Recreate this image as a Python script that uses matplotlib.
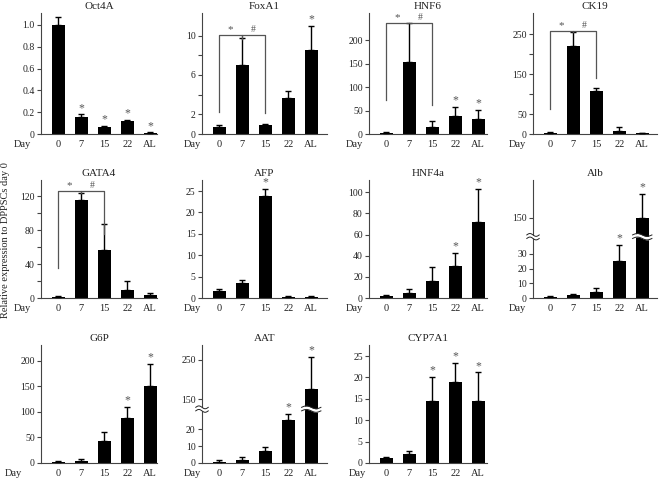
import numpy as np
import matplotlib
matplotlib.use("Agg")
import matplotlib.pyplot as plt

plt.rcParams["font.family"] = ["Liberation Serif", "DejaVu Serif"]

days = ["0", "7", "15", "22", "AL"]
genes = ["Oct4A", "FoxA1", "HNF6", "CK19", "GATA4", "AFP", "HNF4a", "Alb",
         "G6P", "AAT", "CYP7A1"]

# mean values and upper error (sd)
oct4a = [1.0, 0.156, 0.067, 0.12, 0.008]
oct4a_err = [0.077, 0.024, 0.008, 0.01, 0.007]
foxa1 = [0.67, 7.05, 0.87, 3.65, 8.5]
foxa1_err = [0.23, 2.68, 0.13, 0.72, 2.5]
hnf6 = [2, 153, 15.5, 38, 31]
hnf6_err = [2, 84, 11.5, 20.5, 20.5]
ck19 = [3, 220, 108, 7.5, 2]
ck19_err = [3, 36, 8, 10.5, 1.5]
gata4 = [1.5, 116, 57, 9.3, 3.9]
gata4_err = [1, 8, 30, 11.3, 2.3]
afp = [1.7, 3.5, 23.75, 0.3, 0.3]
afp_err = [0.4, 0.6, 1.75, 0.2, 0.2]
hnf4a = [1.5, 5, 16, 30.7, 72]
hnf4a_err = [1, 3.8, 13, 12, 31]
alb = [0.7, 1.8, 4.25, 24.8, 150]
alb_err = [0.6, 1.1, 2.25, 11, 65]
g6p = [1.5, 4.5, 43.5, 87.7, 150]
g6p_err = [1.5, 2.5, 16.5, 22.3, 44]
aat = [0.6, 1.9, 7.1, 25.4, 177]
aat_err = [0.9, 1.4, 2.3, 3.8, 80]
cyp7a1 = [1.17, 2.2, 14.4, 18.9, 14.4]
cyp7a1_err = [0.3, 0.6, 5.7, 4.6, 6.8]

values = [oct4a, foxa1, hnf6, ck19, gata4, afp, hnf4a, alb, g6p, aat, cyp7a1]
errors = [oct4a_err, foxa1_err, hnf6_err, ck19_err, gata4_err, afp_err,
          hnf4a_err, alb_err, g6p_err, aat_err, cyp7a1_err]

# bars marked with * (significant vs day 0)
stars = [[1, 2, 3, 4], [4], [3, 4], [], [], [2], [3, 4], [3, 4], [3, 4],
         [3, 4], [2, 3, 4]]

# brackets: (bar i, bar j, left leg end, top, right leg end, symbol)
brackets = {
    "FoxA1": [(0, 1, 2.27, 10.1, 9.7, "*"), (1, 2, 9.7, 10.1, 2.1, "#")],
    "HNF6": [(0, 1, 73, 237, 237, "*"), (1, 2, 237, 237, 62, "#")],
    "CK19": [(0, 1, 62, 258, 256, "*"), (1, 2, 256, 258, 139, "#")],
    "GATA4": [(0, 1, 35, 126, 124, "*"), (1, 2, 124, 126, 75, "#")],
}

yticks = [
    [0, 0.2, 0.4, 0.6, 0.8, 1.0],
    [0, 2, 4, 6, 8, 10],
    [0, 50, 100, 150, 200],
    [0, 50, 100, 150, 200, 250],
    [0, 20, 40, 60, 80, 100, 120],
    [0, 5, 10, 15, 20, 25],
    [0, 20, 40, 60, 80, 100],
    [0, 10, 20, 30, 150],
    [0, 50, 100, 150, 200],
    [0, 10, 20, 150, 250],
    [0, 5, 10, 15, 20, 25],
]
ytick_labels = [
    ["0", "0.2", "0.4", "0.6", "0.8", "1.0"],
    ["0", "2", "", "6", "", "10"],
    None,
    ["0", "50", "", "150", "", "250"],
    ["0", "", "40", "", "80", "", "120"],
    None, None, None, None, None, None,
]
ytops = [1.11, 12.3, 258, 303, 139, 27.6, 111.6, 254, 231, 287, 27.6]

# broken axes: (low end, high start, upper compression)
breaks = {"Alb": (41, 100, 0.246), "AAT": (31, 130, 0.236)}

# layout in pixels
W, H = 659, 482
col_left = [41, 202, 369, 533]
col_width = [116, 125, 118, 124]
row_top = [13, 180, 345]
row_bottom = [134, 298, 463]
day_offset = [18.5, 10, 15, 16, 18.5, 10, 15, 16, 28, 10, 12]


def broken_scale(lo, hi, k, eps=0.02):
    u1 = lo + (hi - lo) * eps

    def fwd(v):
        v = np.asarray(v, float)
        return np.where(v <= lo, v,
                        np.where(v <= hi, lo + (v - lo) * eps, u1 + (v - hi) * k))

    def inv(u):
        u = np.asarray(u, float)
        return np.where(u <= lo, u,
                        np.where(u <= u1, lo + (u - lo) / eps, hi + (u - u1) / k))

    return fwd, inv


def wave(ax, x0, x1, yc, transform, amp, gap):
    xs = np.linspace(x0, x1, 40)
    s = amp * np.sin(np.linspace(0, 2 * np.pi, 40))
    ax.fill_between(xs, yc - gap / 2 + s, yc + gap / 2 + s, color="white",
                    transform=transform, zorder=5, clip_on=False, lw=0)
    for d in (-gap / 2, gap / 2):
        ax.plot(xs, yc + d + s, color="#222", lw=0.7, transform=transform,
                zorder=6, clip_on=False)


fig = plt.figure(figsize=(W / 100, H / 100), dpi=100)
x = np.arange(len(days))

for n, gene in enumerate(genes):
    r, c = divmod(n, 4)
    left = col_left[c] / W
    bottom = 1 - row_bottom[r] / H
    ax = fig.add_axes([left, bottom, col_width[c] / W,
                       (row_bottom[r] - row_top[r]) / H])
    vals = np.array(values[n])
    err = np.array(errors[n])

    if gene in breaks:
        f, finv = broken_scale(*breaks[gene])
        ax.set_yscale("function", functions=(f, finv))

    ax.bar(x, vals, width=0.58, color="black", zorder=2)
    ax.errorbar(x, vals, yerr=[np.zeros_like(err), err], fmt="none",
                ecolor="black", elinewidth=1, capsize=2.3, capthick=1, zorder=3)
    for i in stars[n]:
        ax.annotate("*", (x[i], vals[i] + err[i]), xytext=(0, 0.3),
                    textcoords="offset points", ha="center", va="bottom",
                    fontsize=8.5, color="#555")
    for i, j, yl, yt, yr, sym in brackets.get(gene, []):
        ax.plot([x[i], x[i], x[j], x[j]], [yl, yt, yt, yr], color="#555",
                lw=0.9, zorder=4)
        ax.annotate(sym, ((x[i] + x[j]) / 2, yt), xytext=(0, 0.5),
                    textcoords="offset points", ha="center", va="bottom",
                    fontsize=8 if sym == "*" else 7, color="#555")

    ax.set_xlim(-0.75, -0.75 + col_width[c] / 23)
    ax.set_ylim(0, ytops[n])
    ax.set_yticks(yticks[n])
    if ytick_labels[n] is not None:
        ax.set_yticklabels(ytick_labels[n])
    ax.set_xticks(x)
    ax.set_xticklabels(days)
    ax.tick_params(axis="x", length=0, pad=4, labelsize=7.5, colors="#222")
    ax.tick_params(axis="y", length=3, width=0.8, pad=1.5, labelsize=7,
                   colors="#444", labelcolor="#222")
    for side in ("top", "right"):
        ax.spines[side].set_visible(False)
    for side in ("left", "bottom"):
        ax.spines[side].set_color("#444")
        ax.spines[side].set_linewidth(0.8)
    ax.set_title(gene, fontsize=8, pad=3, color="#222")
    ax.annotate("Day", (0, 0), xycoords="axes fraction",
                xytext=(-day_offset[n] * 0.72, -4),
                textcoords="offset points", ha="center", va="top",
                fontsize=7.5, color="#222")

    if gene in breaks:
        lo, hi, k = breaks[gene]
        f = broken_scale(lo, hi, k)[0]
        yb = float(f((lo + hi) / 2) / f(ytops[n]))
        wave(ax, -0.05, 0.05, yb, ax.transAxes, 0.012, 0.03)
        wave(ax, x[4] - 0.42, x[4] + 0.42, yb, ax.get_xaxis_transform(),
             0.012, 0.03)

fig.text(0.008, 1 - 240 / H, "Relative expression to DPPSCs day 0",
         rotation=90, ha="center", va="center", fontsize=7.5, color="#222")

fig.savefig("out.png", dpi=100)
